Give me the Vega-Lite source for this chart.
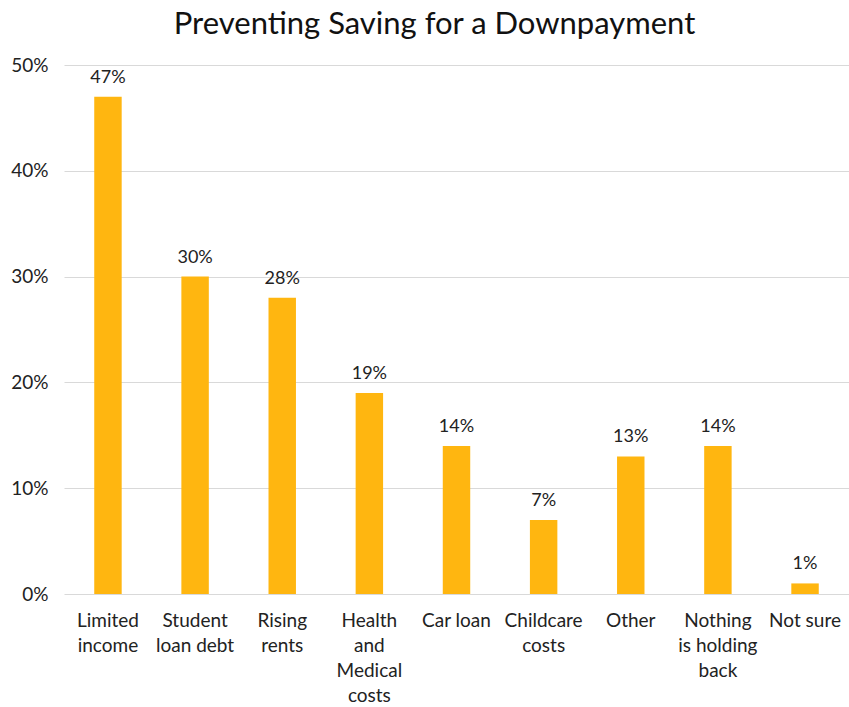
{
  "$schema": "https://vega.github.io/schema/vega-lite/v6.json",
  "autosize": {"type": "none"},
  "width": 785,
  "height": 529,
  "padding": {"left": 64, "top": 65, "right": 0, "bottom": 113},
  "background": "white",
  "title": {
    "text": "Preventing Saving for a Downpayment",
    "font": "Lato",
    "fontSize": 31,
    "fontWeight": "normal",
    "color": "#111111",
    "anchor": "middle",
    "dx": -22,
    "offset": 15
  },
  "data": {
    "values": [
      {"reason": "Limited|income", "pct": 0.47},
      {"reason": "Student|loan debt", "pct": 0.30},
      {"reason": "Rising|rents", "pct": 0.28},
      {"reason": "Health|and|Medical|costs", "pct": 0.19},
      {"reason": "Car loan", "pct": 0.14},
      {"reason": "Childcare|costs", "pct": 0.07},
      {"reason": "Other", "pct": 0.13},
      {"reason": "Nothing|is holding|back", "pct": 0.14},
      {"reason": "Not sure", "pct": 0.01}
    ]
  },
  "encoding": {
    "x": {
      "field": "reason",
      "type": "nominal",
      "sort": null,
      "scale": {"paddingInner": 0.685, "paddingOuter": 0.347},
      "axis": {
        "title": null,
        "labelAngle": 0,
        "labelExpr": "split(datum.label, '|')",
        "labelFont": "Lato",
        "labelFontSize": 19,
        "labelColor": "#222222",
        "labelLineHeight": 25,
        "labelPadding": 17,
        "labelBaseline": "top",
        "ticks": false,
        "domain": false,
        "grid": false
      }
    },
    "y": {
      "field": "pct",
      "type": "quantitative",
      "scale": {"domain": [0, 0.5]},
      "axis": {
        "title": null,
        "format": ".0%",
        "values": [0, 0.1, 0.2, 0.3, 0.4, 0.5],
        "labelFont": "Lato",
        "labelFontSize": 19,
        "labelColor": "#222222",
        "labelPadding": 16,
        "ticks": false,
        "domain": false,
        "grid": true,
        "gridColor": "#d9d9d9",
        "gridWidth": 1
      }
    }
  },
  "layer": [
    {"mark": {"type": "bar", "color": "#FFB610"}},
    {
      "mark": {"type": "text", "baseline": "bottom", "dy": -10, "font": "Lato", "fontSize": 18, "color": "#222222"},
      "encoding": {"text": {"field": "pct", "type": "quantitative", "format": ".0%"}}
    }
  ],
  "config": {"view": {"stroke": null}}
}
